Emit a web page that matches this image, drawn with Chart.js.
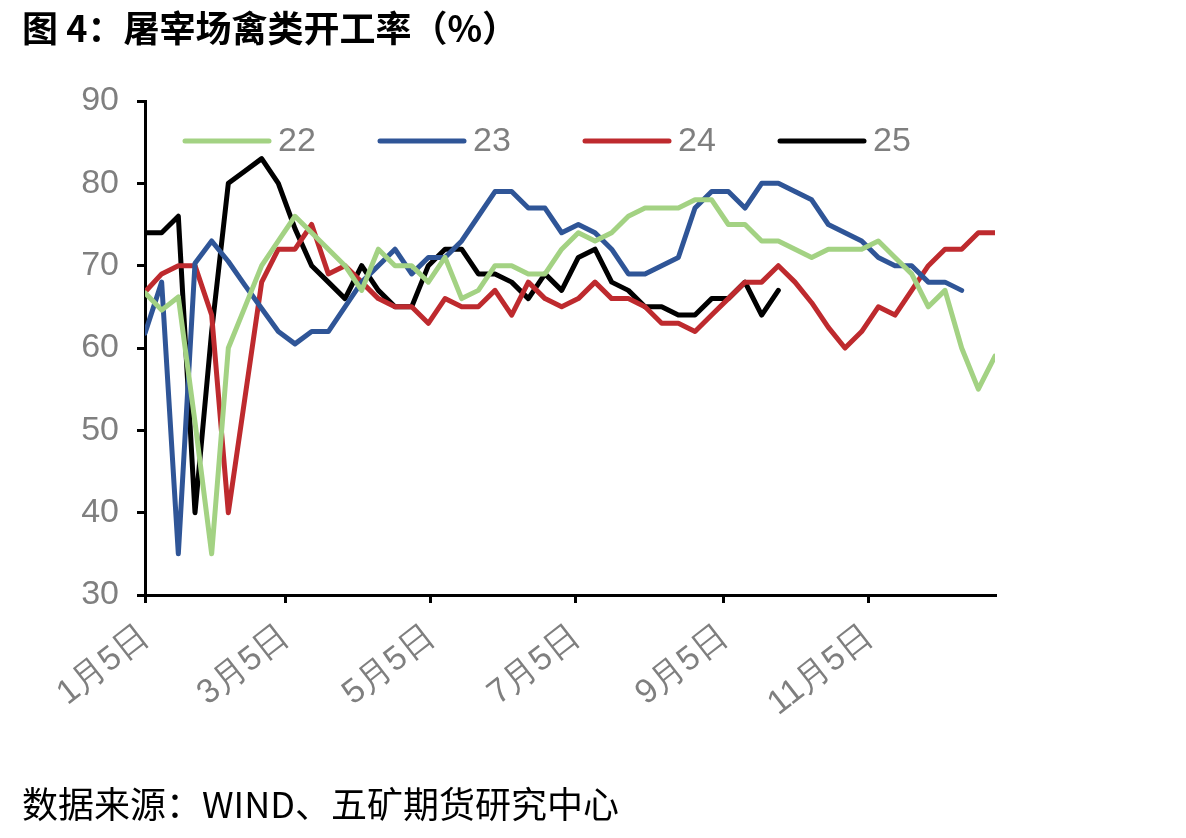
<!DOCTYPE html>
<html>
<head>
<meta charset="utf-8">
<script src="https://cdn.jsdelivr.net/npm/chart.js@4.4.1/dist/chart.umd.min.js"></script>
<style>
    html, body { margin: 0; padding: 0; background: #fff; }
    #wrap { position: relative; width: 1186px; height: 838px; overflow: hidden; }
    #chart { position: absolute; left: 0; top: 0; }
    .title { position: absolute; left: 22px; top: 0px; font: bold 36px "Noto Sans CJK SC", sans-serif; color: #000; white-space: nowrap; }
    .source { position: absolute; left: 22px; top: 776px; font: 36px "Noto Sans CJK SC", sans-serif; color: #000; white-space: nowrap; }
</style>
</head>
<body>
<div id="wrap">
    <canvas id="chart" width="1186" height="838"></canvas>
    <div class="title">图 4：屠宰场禽类开工率（%）</div>
    <div class="source">数据来源：WIND、五矿期货研究中心</div>
</div>
<script>
(function () {
    'use strict';

    // weekly observations, x = days since 1月5日
    const weekStep = 7;
    const tickDays = [0, 59, 120, 181, 243, 304];
    const tickLabels = ['1月5日', '3月5日', '5月5日', '7月5日', '9月5日', '11月5日'];

    const seriesNames = ['22', '23', '24', '25'];
    const seriesColors = ['#A3D283', '#2F5597', '#BE2A2E', '#000000'];

    const s22 = [66.7, 64.6, 66.2, 51, 35, 60, 65, 70, 73, 76, 74, 72, 70, 67, 72, 70, 70, 68, 71, 66,
                 67, 70, 70, 69, 69, 72, 74, 73, 74, 76, 77, 77, 77, 78, 78, 75, 75, 73, 73, 72,
                 71, 72, 72, 72, 73, 71, 69, 65, 67, 60, 55, 59];
    const s23 = [61.8, 68, 35, 70.3, 73, 70.5, 67.6, 64.8, 62, 60.5, 62, 62, 65, 68, 70, 72, 69, 71, 71, 73,
                 76, 79, 79, 77, 77, 74, 75, 74, 72, 69, 69, 70, 71, 77, 79, 79, 77, 80, 80, 79,
                 78, 75, 74, 73, 71, 70, 70, 68, 68, 67];
    const s24 = [66.8, 69, 70, 70, 64, 40, 54, 68, 72, 72, 75, 69, 70, 68, 66, 65, 65, 63, 66, 65,
                 65, 67, 64, 68, 66, 65, 66, 68, 66, 66, 65, 63, 63, 62, 64, 66, 68, 68, 70, 68,
                 65.5, 62.5, 60, 62, 65, 64, 67, 70, 72, 72, 74, 74];
    const s25 = [74, 74, 76, 40, 62, 80, 81.5, 83, 80, 74.5, 70, 68, 66, 70, 67, 65, 65, 70, 72, 72,
                 69, 69, 68, 66, 69, 67, 71, 72, 68, 67, 65, 65, 64, 64, 66, 66, 68, 64, 67];

    const tickFont = { family: '"Liberation Sans Narrow", "Liberation Sans", sans-serif', size: 34 };
    const greyText = '#7f7f7f';

    function toPoints(arr) {
        return arr.map((v, i) => ({ x: i * weekStep, y: v }));
    }

    // legend drawn inside the plot, one row across the top
    const legendX = [185, 380, 585, 780];
    const inlineLegend = {
        id: 'inlineLegend',
        afterDatasetsDraw(chart) {
            const ctx = chart.ctx;
            const y = 141;
            chart.data.datasets.forEach((ds, i) => {
                const x0 = legendX[i];
                ctx.save();
                ctx.strokeStyle = ds.borderColor;
                ctx.lineWidth = 5;
                ctx.lineCap = 'round';
                ctx.beginPath();
                ctx.moveTo(x0, y);
                ctx.lineTo(x0 + 84, y);
                ctx.stroke();
                ctx.fillStyle = greyText;
                ctx.font = tickFont.size + 'px ' + tickFont.family;
                ctx.textBaseline = 'middle';
                ctx.fillText(ds.label, x0 + 93, y + 1);
                ctx.restore();
            });
        }
    };

    const axisGrid = { drawOnChartArea: false, drawTicks: true, tickLength: 8, color: '#000', lineWidth: 3 };
    const axisBorder = { display: true, color: '#000', width: 3 };

    new Chart(document.getElementById('chart').getContext('2d'), {
        type: 'line',
        data: {
            datasets: [s22, s23, s24, s25].map((arr, i) => ({
                label: seriesNames[i],
                data: toPoints(arr),
                borderColor: seriesColors[i],
                borderWidth: 5,
                borderJoinStyle: 'round',
                borderCapStyle: 'round',
                pointRadius: 0,
                tension: 0,
                fill: false
            }))
        },
        options: {
            responsive: false,
            animation: false,
            layout: { padding: { top: 101, right: 191, left: 0, bottom: 0 } },
            plugins: { legend: { display: false }, tooltip: { enabled: false } },
            scales: {
                x: {
                    type: 'linear',
                    min: 0,
                    max: 357,
                    afterBuildTicks(scale) { scale.ticks = tickDays.map(v => ({ value: v })); },
                    afterFit(scale) { scale.height = 243; },
                    ticks: {
                        autoSkip: false,
                        minRotation: 38,
                        maxRotation: 38,
                        padding: 14,
                        color: greyText,
                        font: tickFont,
                        callback(v) {
                            const k = tickDays.indexOf(v);
                            return k >= 0 ? tickLabels[k] : '';
                        }
                    },
                    grid: axisGrid,
                    border: axisBorder
                },
                y: {
                    min: 30,
                    max: 90,
                    afterFit(scale) { scale.width = 145; },
                    ticks: { stepSize: 10, padding: 18, color: greyText, font: tickFont },
                    grid: axisGrid,
                    border: axisBorder
                }
            }
        },
        plugins: [inlineLegend]
    });
})();
</script>
</body>
</html>
